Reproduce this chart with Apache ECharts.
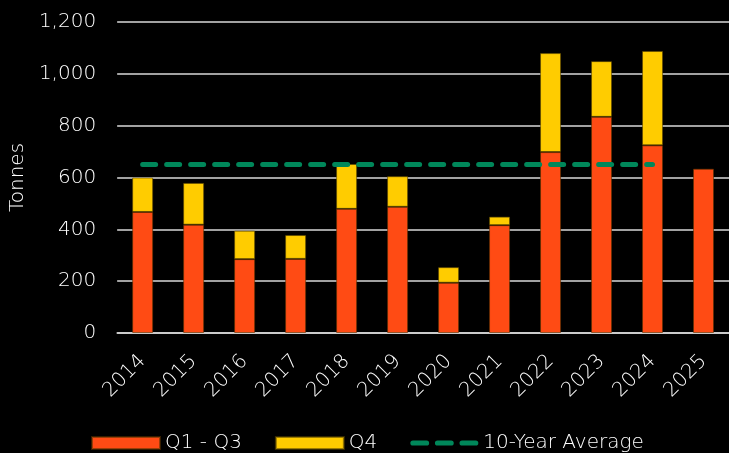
<!DOCTYPE html>
<html>
<head>
<meta charset="utf-8">
<script src="https://cdn.jsdelivr.net/npm/echarts@6/dist/echarts.min.js"></script>
<style>
  html, body { margin: 0; padding: 0; background: #000; }
  #chart { width: 729px; height: 453px; }
</style>
</head>
<body>
<div id="chart"></div>
<script>
const years = ['2014','2015','2016','2017','2018','2019','2020','2021','2022','2023','2024','2025'];
const q1q3 = [467, 418, 285, 286, 479, 487, 194, 416, 698, 834, 724, 634];
const q4 = [133, 161, 110, 92, 173, 118, 60, 33, 382, 215, 364, null];
const avg10 = [650, 650, 650, 650, 650, 650, 650, 650, 650, 650, 650, null];
const yTicks = [0, 200, 400, 600, 800, 1000, 1200];

const FONT = 'DejaVu Sans';
const FW = 300;
const chart = echarts.init(document.getElementById('chart'), null, { renderer: 'canvas' });

const dashIcon = 'path://M2.5,0 H15.5 A2.5,2.5 0 0 1 15.5,5 H2.5 A2.5,2.5 0 0 1 2.5,0 Z ' +
  'M26,0 H39 A2.5,2.5 0 0 1 39,5 H26 A2.5,2.5 0 0 1 26,0 Z ' +
  'M49.5,0 H62.5 A2.5,2.5 0 0 1 62.5,5 H49.5 A2.5,2.5 0 0 1 49.5,0 Z';

chart.setOption({
  backgroundColor: '#000000',
  animation: false,
  textStyle: { fontFamily: FONT, color: '#ffffff', fontWeight: FW },
  grid: { left: 114, right: -5, top: 22, bottom: 120, containLabel: false },
  legend: {
    left: 86,
    top: 428,
    itemWidth: 68,
    itemHeight: 12,
    itemGap: 33,
    textStyle: { color: '#ffffff', fontSize: 20, fontFamily: FONT, fontWeight: FW },
    data: [
      { name: 'Q1 - Q3', icon: 'rect' },
      { name: 'Q4', icon: 'rect' },
      { name: '10-Year Average', icon: dashIcon }
    ]
  },
  xAxis: {
    type: 'category',
    data: years,
    axisLine: { show: true, lineStyle: { color: '#d9d9d9', width: 1.5 } },
    axisTick: { show: false },
    axisLabel: {
      color: '#ffffff',
      fontSize: 20,
      fontFamily: FONT,
      fontWeight: FW,
      rotate: 45,
      interval: 0,
      margin: 25
    }
  },
  yAxis: {
    type: 'value',
    min: yTicks[0],
    max: yTicks[yTicks.length - 1],
    interval: 200,
    name: 'Tonnes',
    nameLocation: 'middle',
    nameRotate: 90,
    nameGap: 88,
    nameTextStyle: { color: '#ffffff', fontSize: 20, fontFamily: FONT, fontWeight: FW },
    axisLine: { show: false },
    axisTick: { show: false },
    axisLabel: {
      color: '#ffffff',
      fontSize: 20,
      fontFamily: FONT,
      fontWeight: FW,
      margin: 21,
      formatter: v => v.toLocaleString('en-US')
    },
    splitLine: { show: true, lineStyle: { color: '#d9d9d9', width: 1.5 } }
  },
  series: [
    {
      name: 'Q1 - Q3',
      type: 'bar',
      stack: 'total',
      data: q1q3,
      barWidth: 21,
      itemStyle: { color: '#FF4B14', borderColor: 'rgba(90,50,0,0.6)', borderWidth: 1 }
    },
    {
      name: 'Q4',
      type: 'bar',
      stack: 'total',
      data: q4,
      barWidth: 21,
      itemStyle: { color: '#FFCC00', borderColor: 'rgba(90,70,0,0.6)', borderWidth: 1 }
    },
    {
      name: '10-Year Average',
      type: 'line',
      data: avg10,
      symbol: 'none',
      color: '#00875A',
      z: 5,
      lineStyle: { color: '#00875A', width: 5, type: [13, 11], cap: 'round' },
      itemStyle: { color: '#00875A' }
    }
  ]
});
</script>
</body>
</html>
